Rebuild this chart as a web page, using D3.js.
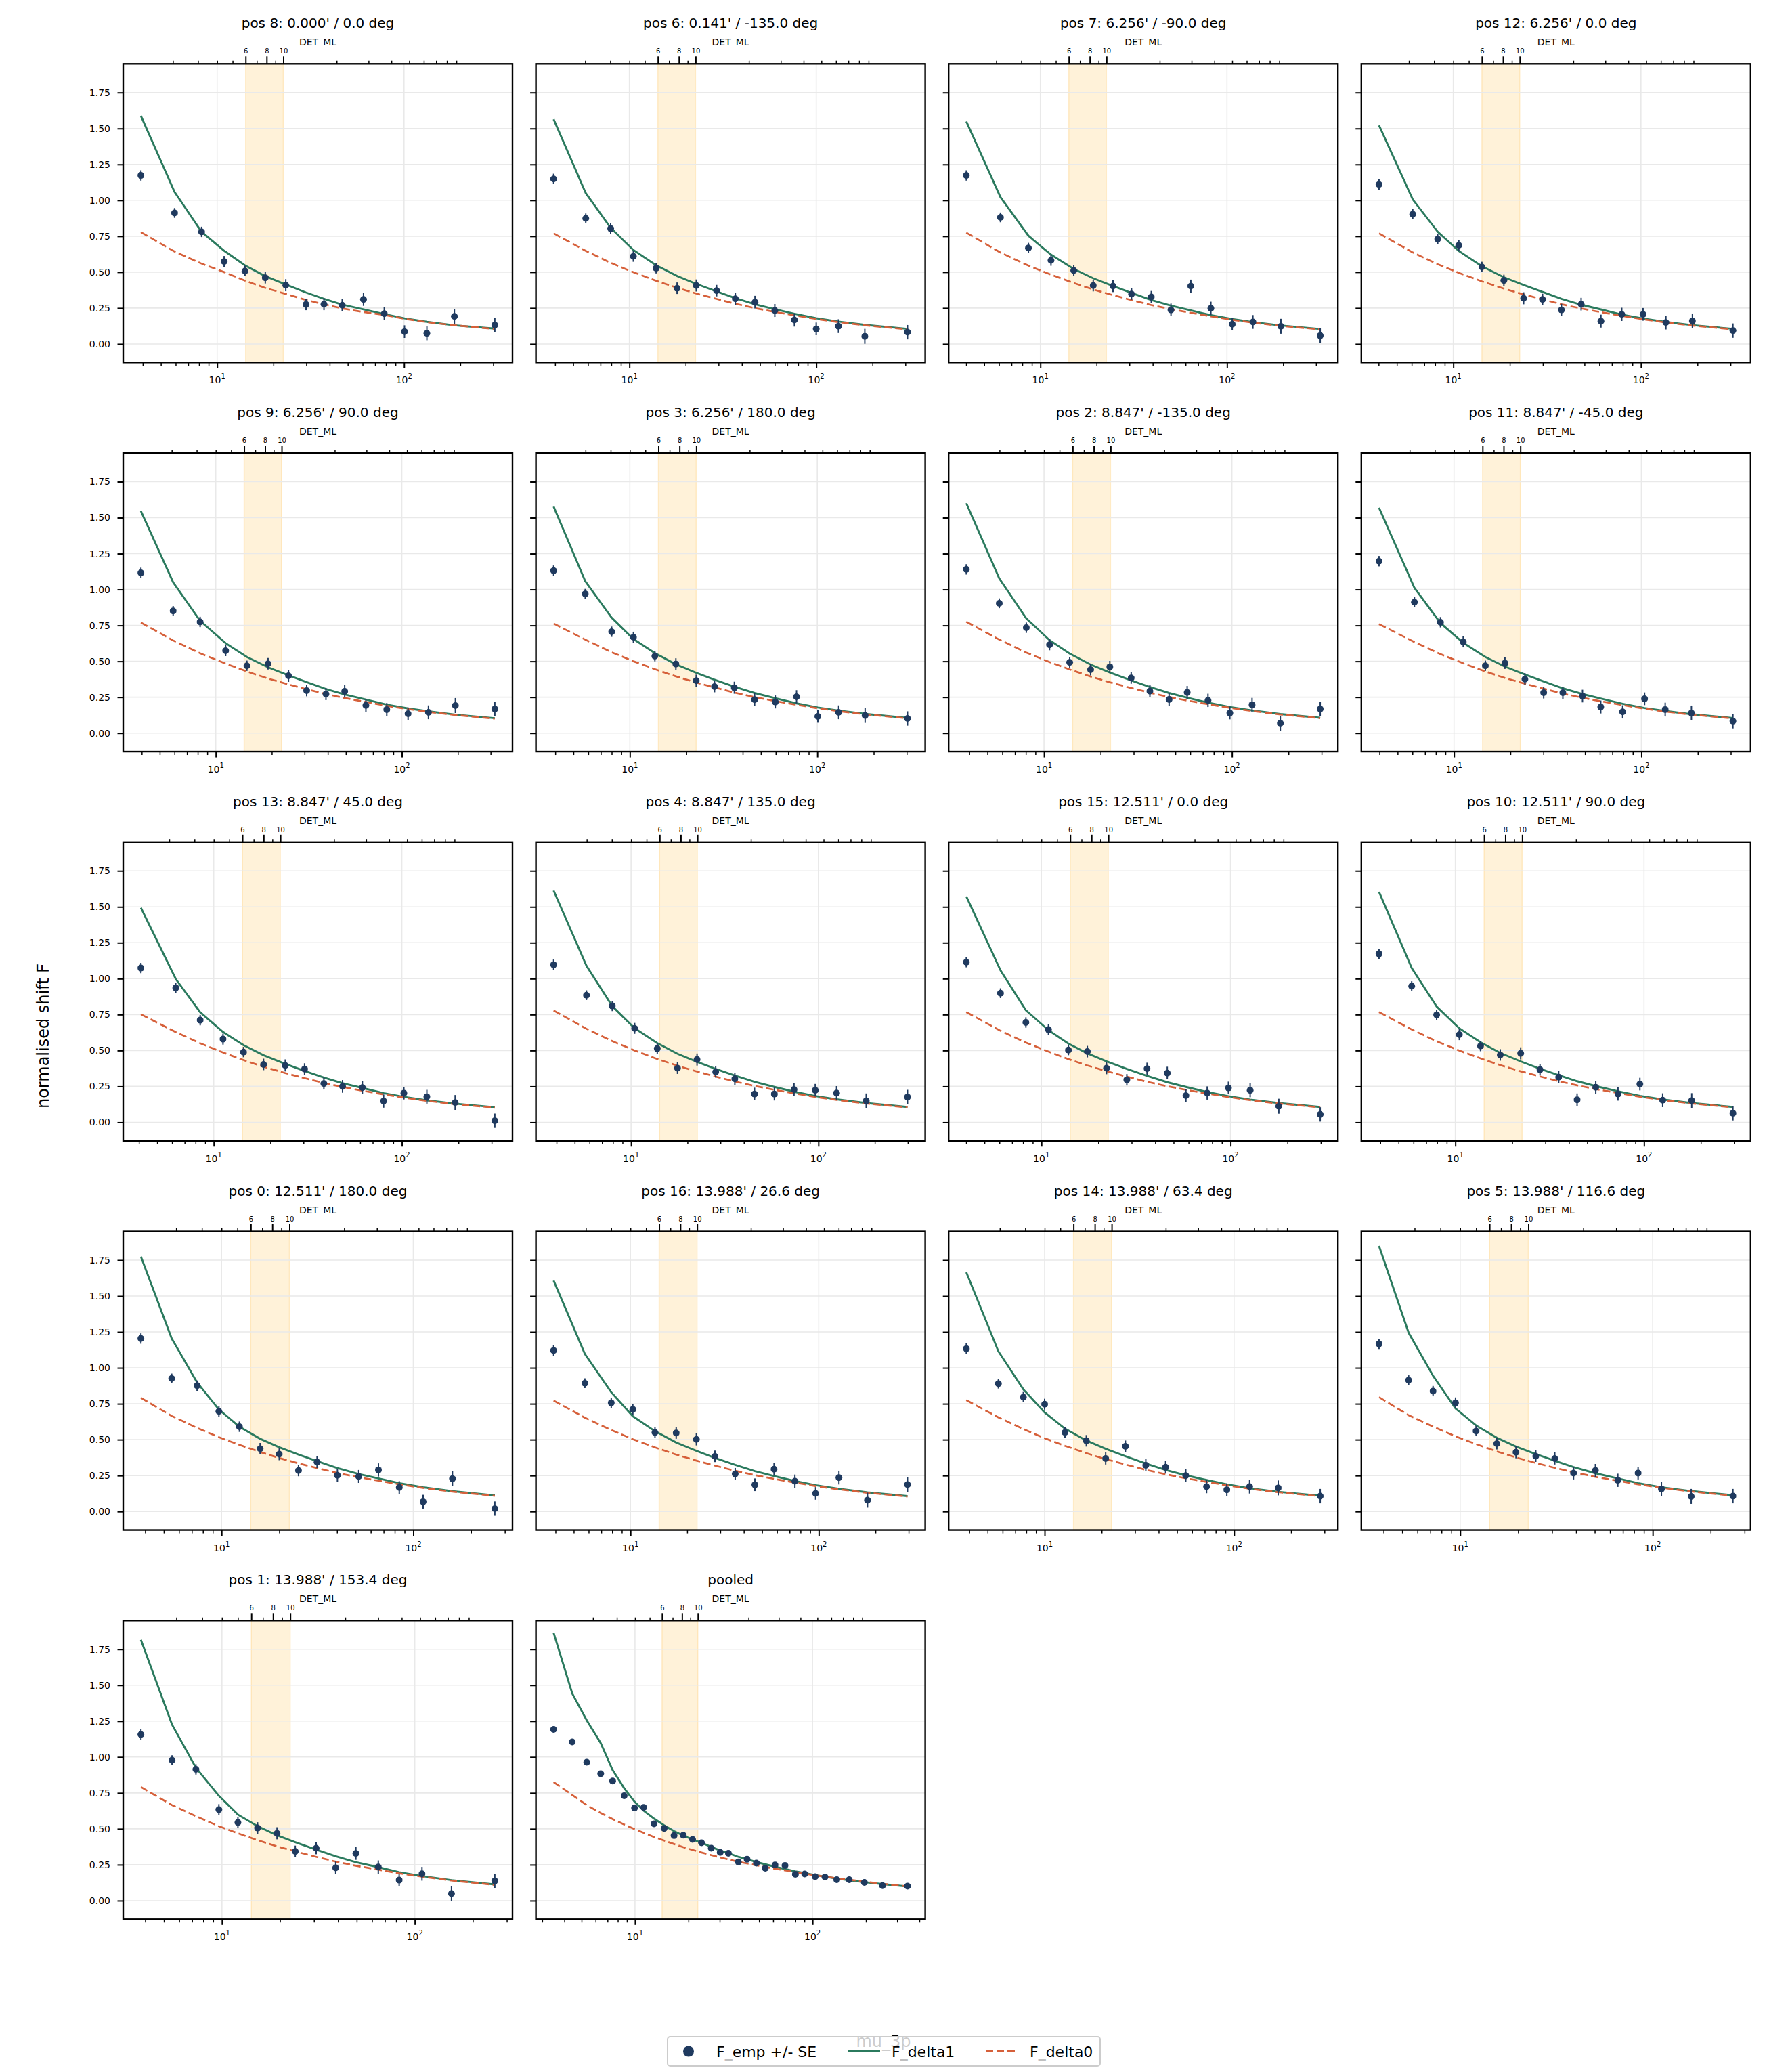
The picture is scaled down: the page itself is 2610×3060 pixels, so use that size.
<!DOCTYPE html>
<html>
<head>
<meta charset="utf-8">
<script src="https://cdn.jsdelivr.net/npm/d3@7"></script>
<style>
  body { margin: 0; background: #fff; }
  svg { display: block; }
  text { font-family: "DejaVu Sans", sans-serif; }
</style>
</head>
<body>
<svg id="chart" width="2610" height="3060"></svg>
<script>
// --- Data ---
const panelTitles = [
    "pos 8: 0.000' / 0.0 deg", "pos 6: 0.141' / -135.0 deg", "pos 7: 6.256' / -90.0 deg", "pos 12: 6.256' / 0.0 deg",
    "pos 9: 6.256' / 90.0 deg", "pos 3: 6.256' / 180.0 deg", "pos 2: 8.847' / -135.0 deg", "pos 11: 8.847' / -45.0 deg",
    "pos 13: 8.847' / 45.0 deg", "pos 4: 8.847' / 135.0 deg", "pos 15: 12.511' / 0.0 deg", "pos 10: 12.511' / 90.0 deg",
    "pos 0: 12.511' / 180.0 deg", "pos 16: 13.988' / 26.6 deg", "pos 14: 13.988' / 63.4 deg", "pos 5: 13.988' / 116.6 deg",
    "pos 1: 13.988' / 153.4 deg", "pooled"
];

// mu_3p bin centres per panel
const muBins = [
    [3.91, 5.92, 8.26, 10.9, 14.1, 18.1, 23.3, 29.9, 37.3, 46.7, 60.7, 78.4, 100.6, 132.5, 186, 306],
    [3.93, 5.84, 7.94, 10.5, 13.9, 18.0, 22.8, 29.3, 36.9, 47.0, 60.0, 76.4, 100.0, 131.5, 182, 308],
    [4.01, 6.11, 8.63, 11.4, 15.1, 19.2, 24.5, 30.8, 39.3, 50.1, 64.0, 82.0, 106.7, 137.7, 194.5, 316],
    [4.02, 6.08, 8.26, 10.7, 14.2, 18.6, 23.7, 29.9, 37.7, 48.0, 61.2, 79.0, 102.6, 135.8, 188, 309],
    [3.96, 5.90, 8.24, 11.3, 14.7, 19.1, 24.6, 30.8, 39.1, 49.3, 64.1, 83.0, 108, 139, 194, 316],
    [3.92, 5.78, 8.00, 10.45, 13.6, 17.6, 22.6, 28.3, 36.1, 46.3, 59.7, 77.5, 100.7, 130, 180, 303],
    [3.86, 5.78, 8.05, 10.7, 13.7, 17.7, 22.4, 29.1, 36.6, 46.3, 57.8, 74.6, 97.5, 128, 181, 295],
    [3.98, 6.15, 8.47, 11.2, 14.7, 18.7, 23.9, 30.1, 38.1, 48.5, 60.7, 79.4, 104, 134, 185, 308],
    [4.10, 6.28, 8.47, 11.2, 14.4, 18.4, 24.0, 30.4, 38.5, 48.4, 61.7, 80.0, 102.5, 135.8, 192, 312],
    [3.86, 5.78, 7.94, 10.45, 13.8, 17.7, 22.5, 28.3, 35.8, 45.6, 58.2, 74.1, 96.2, 125, 180, 299],
    [4.01, 6.08, 8.28, 10.9, 13.9, 17.5, 22.1, 28.3, 36.2, 46.3, 58.1, 75.3, 97.5, 127, 180, 298],
    [3.94, 5.87, 7.96, 10.5, 13.6, 17.3, 22.2, 28.1, 35.3, 44.2, 55.5, 72.8, 95.1, 125.6, 179, 296],
    [3.80, 5.50, 7.46, 9.69, 12.4, 15.9, 20.0, 25.2, 31.5, 40.2, 51.9, 65.8, 84.5, 112.5, 160, 266],
    [3.91, 5.73, 7.91, 10.3, 13.5, 17.5, 22.4, 28.1, 36.0, 45.8, 57.9, 74.7, 96.2, 128, 181.5, 296],
    [3.86, 5.70, 7.72, 10.0, 12.8, 16.6, 21.0, 26.7, 34.2, 43.5, 55.6, 71.6, 91.6, 120.8, 171, 285],
    [3.79, 5.40, 7.23, 9.46, 12.1, 15.5, 19.5, 24.7, 31.0, 38.8, 50.4, 65.9, 84.0, 111, 158.5, 261],
    [3.80, 5.51, 7.33, 9.64, 12.1, 15.3, 19.3, 24.0, 30.8, 38.9, 49.5, 64.7, 83.0, 109, 155, 260],
    [3.48, 4.43, 5.35, 6.41, 7.48, 8.69, 9.94, 11.2, 12.8, 14.6, 16.6, 18.7, 21.1, 23.7, 26.9, 30.2,
     33.6, 38.2, 42.8, 48.3, 54.2, 61.5, 70.0, 80.1, 90.4, 103.5, 117.6, 137, 161, 196, 248, 343]
];

const fEmp = [
    [1.173, 0.912, 0.780, 0.574, 0.508, 0.461, 0.409, 0.275, 0.277, 0.270, 0.310, 0.211, 0.086, 0.074, 0.192, 0.132],
    [1.149, 0.874, 0.803, 0.610, 0.527, 0.388, 0.407, 0.371, 0.314, 0.291, 0.233, 0.167, 0.105, 0.124, 0.053, 0.082],
    [1.173, 0.881, 0.668, 0.582, 0.511, 0.406, 0.403, 0.347, 0.327, 0.237, 0.403, 0.248, 0.138, 0.153, 0.123, 0.058],
    [1.110, 0.904, 0.730, 0.687, 0.536, 0.442, 0.318, 0.310, 0.237, 0.277, 0.159, 0.206, 0.206, 0.149, 0.160, 0.093],
    [1.116, 0.851, 0.774, 0.574, 0.469, 0.483, 0.399, 0.296, 0.272, 0.291, 0.193, 0.164, 0.135, 0.145, 0.192, 0.168],
    [1.131, 0.970, 0.706, 0.668, 0.536, 0.481, 0.365, 0.324, 0.316, 0.233, 0.217, 0.253, 0.116, 0.145, 0.123, 0.102],
    [1.140, 0.904, 0.734, 0.615, 0.492, 0.442, 0.461, 0.384, 0.292, 0.234, 0.283, 0.228, 0.140, 0.197, 0.069, 0.168],
    [1.197, 0.912, 0.772, 0.635, 0.469, 0.487, 0.376, 0.281, 0.281, 0.258, 0.182, 0.148, 0.239, 0.164, 0.140, 0.083],
    [1.074, 0.936, 0.711, 0.579, 0.489, 0.403, 0.396, 0.371, 0.270, 0.250, 0.241, 0.148, 0.203, 0.178, 0.138, 0.011],
    [1.097, 0.885, 0.810, 0.654, 0.513, 0.377, 0.437, 0.351, 0.303, 0.197, 0.197, 0.228, 0.223, 0.204, 0.149, 0.176],
    [1.115, 0.899, 0.695, 0.645, 0.503, 0.492, 0.377, 0.296, 0.373, 0.343, 0.186, 0.204, 0.239, 0.223, 0.112, 0.055],
    [1.173, 0.948, 0.748, 0.610, 0.531, 0.469, 0.480, 0.366, 0.314, 0.157, 0.244, 0.197, 0.266, 0.154, 0.151, 0.063],
    [1.204, 0.926, 0.876, 0.697, 0.590, 0.437, 0.399, 0.285, 0.344, 0.252, 0.244, 0.289, 0.167, 0.068, 0.228, 0.020],
    [1.121, 0.893, 0.756, 0.711, 0.550, 0.546, 0.502, 0.384, 0.261, 0.186, 0.294, 0.211, 0.126, 0.236, 0.079, 0.187],
    [1.134, 0.890, 0.796, 0.747, 0.550, 0.492, 0.369, 0.454, 0.322, 0.308, 0.250, 0.173, 0.151, 0.173, 0.164, 0.107],
    [1.167, 0.914, 0.838, 0.756, 0.560, 0.472, 0.412, 0.385, 0.369, 0.267, 0.286, 0.217, 0.267, 0.157, 0.105, 0.107],
    [1.157, 0.978, 0.914, 0.634, 0.544, 0.506, 0.469, 0.343, 0.365, 0.228, 0.329, 0.234, 0.143, 0.187, 0.049, 0.138],
    [1.192, 1.105, 0.964, 0.884, 0.833, 0.730, 0.645, 0.649, 0.535, 0.503, 0.453, 0.456, 0.426, 0.403, 0.365, 0.336,
     0.330, 0.270, 0.288, 0.261, 0.226, 0.248, 0.245, 0.184, 0.186, 0.167, 0.165, 0.146, 0.146, 0.127, 0.105, 0.101]
];

const fDelta1 = [
    [1.588, 1.058, 0.780, 0.649, 0.547, 0.472, 0.414, 0.358, 0.314, 0.274, 0.241, 0.208, 0.178, 0.154, 0.130, 0.107],
    [1.564, 1.050, 0.808, 0.654, 0.548, 0.473, 0.418, 0.366, 0.319, 0.276, 0.242, 0.210, 0.179, 0.156, 0.133, 0.105],
    [1.549, 1.022, 0.753, 0.622, 0.522, 0.457, 0.403, 0.355, 0.306, 0.267, 0.234, 0.200, 0.173, 0.152, 0.129, 0.104],
    [1.522, 1.006, 0.781, 0.647, 0.541, 0.464, 0.410, 0.362, 0.314, 0.273, 0.240, 0.204, 0.177, 0.153, 0.131, 0.105],
    [1.546, 1.050, 0.782, 0.626, 0.530, 0.458, 0.402, 0.355, 0.307, 0.269, 0.234, 0.198, 0.172, 0.152, 0.129, 0.104],
    [1.577, 1.058, 0.803, 0.655, 0.557, 0.479, 0.420, 0.372, 0.323, 0.279, 0.243, 0.207, 0.178, 0.157, 0.134, 0.106],
    [1.600, 1.077, 0.799, 0.647, 0.554, 0.477, 0.422, 0.367, 0.321, 0.279, 0.247, 0.212, 0.182, 0.158, 0.133, 0.107],
    [1.569, 1.011, 0.766, 0.629, 0.530, 0.463, 0.408, 0.360, 0.312, 0.272, 0.241, 0.204, 0.175, 0.154, 0.132, 0.105],
    [1.494, 0.998, 0.766, 0.629, 0.537, 0.467, 0.407, 0.357, 0.311, 0.272, 0.239, 0.203, 0.177, 0.153, 0.130, 0.105],
    [1.613, 1.090, 0.808, 0.655, 0.551, 0.477, 0.421, 0.372, 0.326, 0.282, 0.246, 0.213, 0.183, 0.160, 0.134, 0.107],
    [1.572, 1.058, 0.780, 0.641, 0.548, 0.480, 0.425, 0.372, 0.323, 0.279, 0.246, 0.211, 0.182, 0.158, 0.134, 0.107],
    [1.604, 1.074, 0.806, 0.654, 0.557, 0.483, 0.424, 0.373, 0.328, 0.286, 0.252, 0.216, 0.184, 0.159, 0.134, 0.107],
    [1.775, 1.204, 0.898, 0.710, 0.590, 0.506, 0.447, 0.396, 0.350, 0.302, 0.261, 0.230, 0.197, 0.168, 0.141, 0.112],
    [1.608, 1.097, 0.830, 0.663, 0.559, 0.480, 0.422, 0.373, 0.324, 0.281, 0.247, 0.212, 0.183, 0.158, 0.133, 0.107],
    [1.665, 1.115, 0.850, 0.690, 0.577, 0.494, 0.436, 0.385, 0.334, 0.289, 0.252, 0.219, 0.189, 0.162, 0.137, 0.109],
    [1.849, 1.244, 0.945, 0.717, 0.599, 0.513, 0.452, 0.400, 0.353, 0.309, 0.266, 0.230, 0.197, 0.169, 0.142, 0.113],
    [1.816, 1.226, 0.925, 0.730, 0.599, 0.518, 0.455, 0.407, 0.355, 0.309, 0.268, 0.233, 0.198, 0.171, 0.143, 0.113],
    [1.865, 1.443, 1.255, 1.097, 0.909, 0.783, 0.689, 0.626, 0.571, 0.524, 0.484, 0.453, 0.426, 0.403, 0.374, 0.349,
     0.330, 0.305, 0.288, 0.269, 0.253, 0.236, 0.220, 0.204, 0.192, 0.178, 0.167, 0.154, 0.142, 0.129, 0.115, 0.099]
];

const fDelta0 = [
    [0.778, 0.643, 0.559, 0.500, 0.441, 0.390, 0.348, 0.306, 0.276, 0.247, 0.222, 0.202, 0.175, 0.152, 0.130, 0.104],
    [0.770, 0.648, 0.565, 0.499, 0.440, 0.391, 0.351, 0.313, 0.280, 0.249, 0.223, 0.199, 0.174, 0.152, 0.130, 0.102],
    [0.775, 0.636, 0.545, 0.482, 0.424, 0.379, 0.340, 0.305, 0.271, 0.242, 0.217, 0.192, 0.168, 0.148, 0.126, 0.101],
    [0.770, 0.637, 0.555, 0.495, 0.436, 0.385, 0.345, 0.310, 0.276, 0.247, 0.221, 0.195, 0.172, 0.149, 0.128, 0.102],
    [0.770, 0.645, 0.556, 0.484, 0.429, 0.380, 0.339, 0.305, 0.272, 0.244, 0.217, 0.190, 0.167, 0.148, 0.126, 0.101],
    [0.763, 0.651, 0.563, 0.500, 0.445, 0.395, 0.352, 0.318, 0.282, 0.251, 0.223, 0.197, 0.173, 0.153, 0.131, 0.103],
    [0.775, 0.651, 0.561, 0.495, 0.443, 0.394, 0.354, 0.314, 0.281, 0.251, 0.227, 0.201, 0.176, 0.154, 0.130, 0.104],
    [0.759, 0.634, 0.550, 0.486, 0.429, 0.384, 0.344, 0.309, 0.275, 0.246, 0.222, 0.195, 0.170, 0.150, 0.129, 0.102],
    [0.752, 0.628, 0.550, 0.486, 0.433, 0.387, 0.343, 0.307, 0.274, 0.246, 0.220, 0.194, 0.172, 0.149, 0.127, 0.102],
    [0.778, 0.651, 0.565, 0.500, 0.441, 0.394, 0.353, 0.318, 0.284, 0.253, 0.226, 0.202, 0.177, 0.156, 0.131, 0.104],
    [0.767, 0.637, 0.555, 0.492, 0.440, 0.396, 0.356, 0.318, 0.282, 0.251, 0.226, 0.200, 0.176, 0.154, 0.131, 0.104],
    [0.767, 0.646, 0.564, 0.499, 0.445, 0.398, 0.355, 0.319, 0.286, 0.257, 0.231, 0.204, 0.178, 0.155, 0.131, 0.104],
    [0.791, 0.665, 0.582, 0.517, 0.464, 0.414, 0.372, 0.335, 0.302, 0.268, 0.238, 0.214, 0.189, 0.164, 0.138, 0.109],
    [0.772, 0.653, 0.567, 0.503, 0.446, 0.396, 0.354, 0.319, 0.283, 0.253, 0.227, 0.201, 0.177, 0.154, 0.130, 0.104],
    [0.775, 0.655, 0.574, 0.510, 0.457, 0.406, 0.364, 0.327, 0.290, 0.259, 0.231, 0.206, 0.182, 0.158, 0.134, 0.106],
    [0.796, 0.670, 0.591, 0.523, 0.469, 0.418, 0.376, 0.338, 0.304, 0.273, 0.241, 0.214, 0.189, 0.165, 0.139, 0.110],
    [0.791, 0.665, 0.588, 0.518, 0.469, 0.421, 0.378, 0.343, 0.305, 0.272, 0.243, 0.216, 0.190, 0.167, 0.140, 0.110],
    [0.825, 0.736, 0.665, 0.610, 0.568, 0.530, 0.498, 0.472, 0.443, 0.418, 0.394, 0.372, 0.353, 0.335, 0.317, 0.301,
     0.287, 0.271, 0.259, 0.246, 0.235, 0.222, 0.211, 0.199, 0.188, 0.177, 0.167, 0.156, 0.146, 0.133, 0.117, 0.099]
];

// standard errors: the per-position panels share a similar spread, pooled bars are tiny
const seTypical = [0.036, 0.034, 0.036, 0.038, 0.036, 0.040, 0.042, 0.040, 0.042, 0.044, 0.045, 0.046, 0.044, 0.048, 0.052, 0.050];
const sePooled = [0.012, 0.012, 0.012, 0.011, 0.011, 0.011, 0.011, 0.011, 0.010, 0.010, 0.010, 0.010, 0.010, 0.010, 0.010, 0.010,
                  0.010, 0.010, 0.010, 0.010, 0.010, 0.010, 0.010, 0.010, 0.010, 0.010, 0.010, 0.010, 0.011, 0.011, 0.012, 0.012];

const yTicks = [0, 0.25, 0.5, 0.75, 1.0, 1.25, 1.5, 1.75];
const detTicks = [6, 8, 10];
const detMinorTicks = [2, 3, 4, 5, 7, 9, 20, 30, 40, 50, 60, 70, 80, 90];
const detBand = [6, 10];
const legendLabels = ["F_emp +/- SE", "F_delta1", "F_delta0"];

// --- Constants ---
const colors = { emp: "#1f3a5f", d1: "#2b7a5e", d0: "#d6603a", band: "#ffa500", grid: "#e9e9e9" };
const gridLeft = 182, colPitch = 609.6, gridTop = 94.3, rowPitch = 574.75;
const pw = 575, ph = 441;
const font = "DejaVu Sans";
const dash = "11,5";

// DET_ML <-> mu_3p relation used by the secondary axis
const detToMu = d => 2.1 * d + 1.6;

const svg = d3.select("#chart");
svg.append("rect").attr("width", 2610).attr("height", 3060).attr("fill", "#fff");

const y = d3.scaleLinear().domain([-0.129, 1.95]).range([ph, 0]);

function styleAxis(g, size) {
    g.select(".domain").remove();
    g.selectAll("line").attr("stroke", "#000");
    g.selectAll("text").attr("font-family", font).attr("font-size", size).attr("fill", "#000");
}

panelTitles.forEach((title, i) => {
    const col = i % 4, row = Math.floor(i / 4);
    const g = svg.append("g")
        .attr("transform", `translate(${gridLeft + col * colPitch},${gridTop + row * rowPitch})`);

    const mu = muBins[i];
    const lo = Math.log10(d3.min(mu)), hi = Math.log10(d3.max(mu));
    const pad = 0.05 * (hi - lo);
    const x = d3.scaleLog().domain([10 ** (lo - pad), 10 ** (hi + pad)]).range([0, pw]);
    const [x0, x1] = x.domain();
    const se = mu.length === seTypical.length ? seTypical : sePooled;

    // band of DET_ML 6..10
    g.append("rect")
        .attr("x", x(detToMu(detBand[0])))
        .attr("width", x(detToMu(detBand[1])) - x(detToMu(detBand[0])))
        .attr("y", 0).attr("height", ph)
        .attr("fill", colors.band).attr("fill-opacity", 0.15)
        .attr("stroke", colors.band).attr("stroke-opacity", 0.18).attr("stroke-width", 1.5);

    // grid
    const decades = d3.range(-1, 4).map(k => 10 ** k).filter(v => v >= x0 && v <= x1);
    g.selectAll("line.hgrid").data(yTicks).join("line").attr("class", "hgrid")
        .attr("x1", 0).attr("x2", pw).attr("y1", d => y(d)).attr("y2", d => y(d))
        .attr("stroke", colors.grid).attr("stroke-width", 1.6);
    g.selectAll("line.vgrid").data(decades).join("line").attr("class", "vgrid")
        .attr("y1", 0).attr("y2", ph).attr("x1", d => x(d)).attr("x2", d => x(d))
        .attr("stroke", colors.grid).attr("stroke-width", 1.6);

    // model curves
    const line = d3.line().x((d, j) => x(mu[j])).y(d => y(d));
    g.append("path").attr("d", line(fDelta1[i]))
        .attr("fill", "none").attr("stroke", colors.d1).attr("stroke-width", 2.9);
    g.append("path").attr("d", line(fDelta0[i]))
        .attr("fill", "none").attr("stroke", colors.d0).attr("stroke-width", 2.7)
        .attr("stroke-dasharray", dash);

    // empirical points with error bars
    const pts = fEmp[i].map((v, j) => ({ mu: mu[j], v, se: se[j] }));
    g.selectAll("line.err").data(pts).join("line").attr("class", "err")
        .attr("x1", d => x(d.mu)).attr("x2", d => x(d.mu))
        .attr("y1", d => y(d.v - d.se)).attr("y2", d => y(d.v + d.se))
        .attr("stroke", colors.emp).attr("stroke-width", 2);
    g.selectAll("circle.pt").data(pts).join("circle").attr("class", "pt")
        .attr("cx", d => x(d.mu)).attr("cy", d => y(d.v)).attr("r", 5)
        .attr("fill", colors.emp);

    // left axis
    g.append("g")
        .call(d3.axisLeft(y).tickValues(yTicks).tickSize(8.5).tickPadding(10.5)
            .tickFormat(col === 0 ? d3.format(".2f") : () => ""))
        .call(a => styleAxis(a, 14))
        .call(a => a.selectAll("line").attr("stroke-width", 2));

    // bottom axis: decades + minor ticks
    const minors = [];
    d3.range(-1, 4).forEach(k => d3.range(2, 10).forEach(m => {
        const v = m * 10 ** k;
        if (v >= x0 && v <= x1) minors.push(v);
    }));
    g.append("g").attr("transform", `translate(0,${ph})`)
        .call(d3.axisBottom(x).tickValues(minors).tickSize(5).tickFormat(() => ""))
        .call(a => styleAxis(a, 14))
        .call(a => a.selectAll("line").attr("stroke-width", 1.5));
    g.append("g").attr("transform", `translate(0,${ph})`)
        .call(d3.axisBottom(x).tickValues(decades).tickSize(8.5).tickFormat(() => ""))
        .call(a => styleAxis(a, 14))
        .call(a => a.selectAll("line").attr("stroke-width", 2));
    const decLabels = g.selectAll("text.dec").data(decades).join("text").attr("class", "dec")
        .attr("x", d => x(d)).attr("y", ph + 31)
        .attr("text-anchor", "middle").attr("font-size", 14).attr("font-family", font);
    decLabels.append("tspan").text("10");
    decLabels.append("tspan").attr("dy", -7).attr("font-size", 10).text(d => Math.round(Math.log10(d)));

    // secondary top axis in DET_ML
    const topMinor = detMinorTicks.map(detToMu).filter(v => v >= x0 && v <= x1);
    g.append("g")
        .call(d3.axisTop(x).tickValues(topMinor).tickSize(4.6).tickFormat(() => ""))
        .call(a => styleAxis(a, 10))
        .call(a => a.selectAll("line").attr("stroke-width", 1.5));
    g.append("g")
        .call(d3.axisTop(x).tickValues(detTicks.map(detToMu)).tickSize(11).tickPadding(4)
            .tickFormat((d, j) => detTicks[j]))
        .call(a => styleAxis(a, 10))
        .call(a => a.selectAll("line").attr("stroke-width", 2));
    g.append("text").attr("x", pw / 2).attr("y", -27)
        .attr("text-anchor", "middle").attr("font-size", 14).attr("font-family", font)
        .text("DET_ML");

    // spines + title
    g.append("rect").attr("width", pw).attr("height", ph)
        .attr("fill", "none").attr("stroke", "#000").attr("stroke-width", 2.4);
    g.append("text").attr("x", pw / 2).attr("y", -53)
        .attr("text-anchor", "middle").attr("font-size", 20).attr("font-family", font)
        .text(title);
});

// --- Figure labels ---
svg.append("text")
    .attr("transform", "translate(72,1530) rotate(-90)")
    .attr("text-anchor", "middle").attr("font-size", 24).attr("font-family", font)
    .text("normalised shift F");

// x label sits behind the semi-transparent legend, as in the original figure
svg.append("text").attr("x", 1305).attr("y", 3023)
    .attr("text-anchor", "middle").attr("font-size", 24).attr("font-family", font)
    .text("mu_3p");

// --- Legend ---
const legend = svg.append("g");
legend.append("rect")
    .attr("x", 986).attr("y", 3008).attr("width", 639).attr("height", 43).attr("rx", 4)
    .attr("fill", "#fff").attr("fill-opacity", 0.8)
    .attr("stroke", "#cccccc").attr("stroke-width", 2);
const legY = 3029.5;
legend.append("circle").attr("cx", 1017).attr("cy", legY).attr("r", 8).attr("fill", colors.emp);
legend.append("line").attr("x1", 1252).attr("x2", 1300).attr("y1", legY).attr("y2", legY)
    .attr("stroke", colors.d1).attr("stroke-width", 3);
legend.append("line").attr("x1", 1456).attr("x2", 1502).attr("y1", legY).attr("y2", legY)
    .attr("stroke", colors.d0).attr("stroke-width", 3).attr("stroke-dasharray", dash);
legend.selectAll("text.leg").data(legendLabels).join("text").attr("class", "leg")
    .attr("x", (d, j) => [1058, 1317, 1521][j]).attr("y", legY + 8)
    .attr("font-size", 22).attr("font-family", font)
    .text(d => d);
</script>
